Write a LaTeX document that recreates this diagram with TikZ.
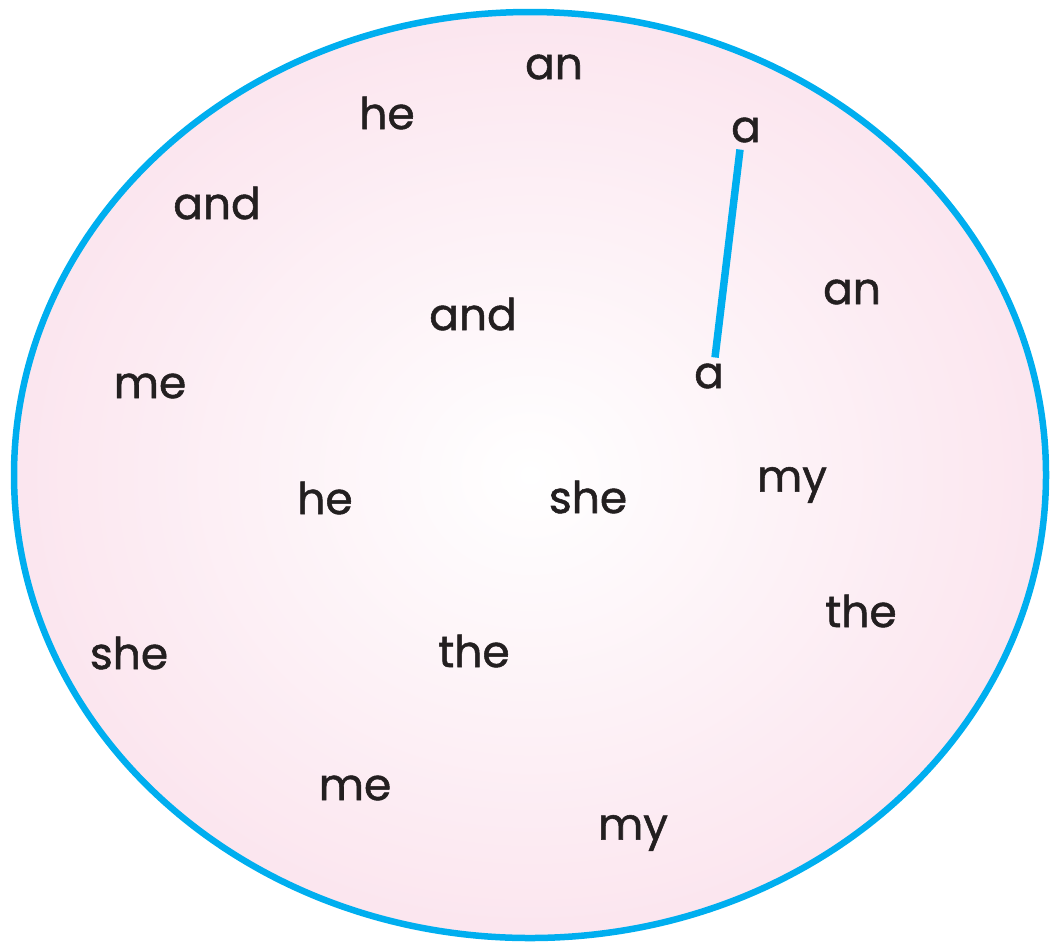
\documentclass[tikz,border=0pt]{standalone}
\usepackage{fontspec}
\setmainfont{Poppins}[FakeBold=1.2, AutoFakeBold=1.2]
\usetikzlibrary{positioning}
\definecolor{ringblue}{RGB}{0,174,239}
\definecolor{eggpink}{RGB}{249,214,229}
\definecolor{inkblack}{RGB}{35,31,32}
\pgfdeclareradialshading{eggshade}{\pgfpoint{0bp}{0bp}}{%
  color(0bp)=(white); color(40bp)=(eggpink); color(72bp)=(eggpink)}
\tikzset{
  word/.style={font=\fontsize{25}{30}\selectfont\bfseries, text=inkblack, inner sep=1pt},
  ring/.style={draw=ringblue, line width=0.13cm, shading=eggshade},
  match/.style={ringblue, line width=0.15cm},
}

\begin{document}
\begin{tikzpicture}[x=0.02cm, y=-0.02cm]
    \useasboundingbox (0,0) rectangle (1050,941);
    \path[ring] (530,475) ellipse [x radius=516, y radius=463];
    % words scattered in the egg
    \node[word] (an1)  at (554,67)  {an};
    \node[word] (he1)  at (387,113) {he};
    \node[word] (a1)   at (746,130) {a};
    \node[word] (and1) at (217,203) {and};
    \node[word] (an2)  at (852,292) {an};
    \node[word] (and2) at (473,314) {and};
    \node[word] (me1)  at (150,386) {me};
    \node[word] (a2)   at (709,376) {a};
    \node[word] (my1)  at (792,485) {my};
    \node[word] (he2)  at (325,498) {he};
    \node[word] (she1) at (588,497) {she};
    \node[word] (the1) at (861,611) {the};
    \node[word] (she2) at (129,653) {she};
    \node[word] (the2) at (474,651) {the};
    \node[word] (me2)  at (355,788) {me};
    \node[word] (my2)  at (633,833) {my};
    % the matched pair
    \draw[match] ([xshift=-0.12cm, yshift=-0.1cm]a1.south) -- ([xshift=0.12cm, yshift=0.08cm]a2.north);
\end{tikzpicture}
\end{document}
